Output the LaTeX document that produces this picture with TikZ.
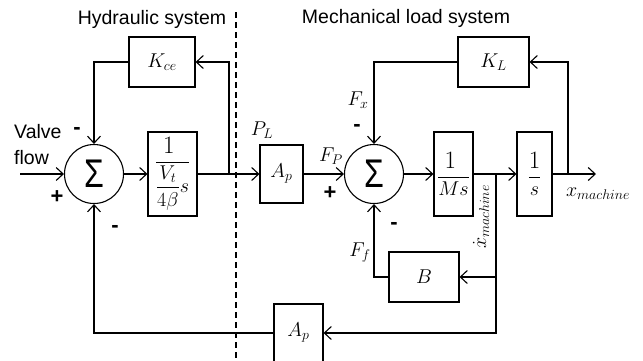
\RequirePackage{fix-cm}
\documentclass[tikz,border=0pt]{standalone}
\usepackage{amsmath}
\usepackage{fontspec}
\setmainfont{Liberation Sans}
\usetikzlibrary{arrows.meta}
\newcommand{\bigone}{\scalebox{1.25}{$1$}}
\begin{document}
\begin{tikzpicture}[x=1pt,y=-1pt,
  wire/.style={line width=1.1pt},
  arr/.style={wire,-{Straight Barb[length=7pt,width=13pt]}},
  blk/.style={draw,line width=1.1pt,inner sep=0pt,font=\fontsize{20}{22}\selectfont},
  sum/.style={circle,draw,line width=1.1pt,minimum size=59pt,inner sep=0pt,font=\fontsize{40}{40}\selectfont},
  lbl/.style={font=\fontsize{20}{22}\selectfont,inner sep=0pt},
  txt/.style={font=\fontsize{19.5}{26}\selectfont,inner sep=0pt},
  sgn/.style={font=\bfseries\fontsize{22}{22}\selectfont,inner sep=0pt}]
\useasboundingbox (0,0) rectangle (643,360);
\clip (0,0) rectangle (643,360);
% blocks
\node[sum] (s1) at (94,174) {\scalebox{0.8}[1]{Σ}};
\node[blk,minimum width=49pt,minimum height=84pt] (g1) at (172.5,174) {$\dfrac{\bigone}{\dfrac{V_t}{4\beta}s}$};
\node[blk,minimum width=66pt,minimum height=50pt] (kce) at (162,62) {$K_{ce}$};
\node[blk,minimum width=43pt,minimum height=58pt] (ap1) at (281.5,174) {$A_p$};
\node[sum] (s2) at (374,174) {\scalebox{0.8}[1]{Σ}};
\node[blk,minimum width=39pt,minimum height=84pt] (ms) at (453.5,174) {$\dfrac{\bigone}{Ms}$};
\node[blk,minimum width=35pt,minimum height=84pt] (si) at (534.5,174) {$\dfrac{\bigone}{s}$};
\node[blk,minimum width=71pt,minimum height=50pt] (kl) at (493.5,62) {$K_L$};
\node[blk,minimum width=70pt,minimum height=50pt] (b) at (424,277) {$B$};
\node[blk,minimum width=49pt,minimum height=58pt] (ap2) at (298.5,333) {$A_p$};
% coordinates
\coordinate (in) at (20,174);
\coordinate (j1) at (229,174);
\coordinate (j2) at (568,174);
\coordinate (j3) at (496,174);
\coordinate (j4) at (496,277);
\coordinate (out) at (596,174);
\coordinate (dtop) at (236,12);
\coordinate (dbot) at (236,360);
% separator
\draw[line width=1.3pt,dash pattern=on 6pt off 4pt] (dtop) -- (dbot);
% connectors
\draw[arr] (in) -- (s1.west);
\draw[arr] (s1) -- (g1);
\draw[arr] (g1) -- (ap1);
\draw[arr] (j1) |- (kce.east);
\draw[arr] (kce.west) -| (s1.north);
\draw[arr] (ap1) -- (s2);
\draw[arr] (s2) -- (ms);
\draw[arr] (ms) -- (si);
\draw[arr] (si) -- (out);
\draw[arr] (j2) |- (kl.east);
\draw[arr] (kl.west) -| (s2.north);
\draw[arr] (j3) |- (ap2.east);
\draw[arr] (j4) -- (b.east);
\draw[arr] (b.west) -| (s2.south);
\draw[arr] (ap2.west) -| (s1.south);
% texts
\node[txt] (t1) at (152,19) {Hydraulic system};
\node[txt] (t2) at (406,18) {Mechanical load system};
\node[txt,align=left,anchor=west] (vf) at (14,145) {Valve\\flow};
\node[sgn] (m1) at (77,131) {-};
\node[sgn] (p1) at (57,197) {+};
\node[sgn] (m2) at (115,229) {-};
\node[sgn] (p2) at (330,193) {+};
\node[sgn] (m3) at (357,128) {-};
\node[sgn] (m4) at (394,226) {-};
\node[lbl] (pl) at (262,130) {$P_L$};
\node[lbl] (fp) at (331,156) {$F_P$};
\node[lbl] (fx) at (358,100) {$F_x$};
\node[lbl] (ff) at (360,253) {$F_f$};
\node[lbl,rotate=90] (xd) at (481,217) {$\dot{x}_{machine}$};
\node[lbl] (xm) at (598,194) {$x_{machine}$};
\end{tikzpicture}
\end{document}
